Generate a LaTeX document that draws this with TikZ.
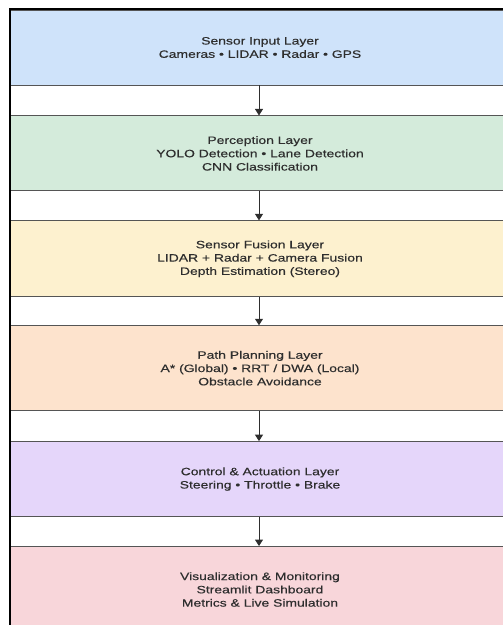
\documentclass[tikz,border=0pt]{standalone}
\usepackage{fontspec}
\setmainfont{Liberation Sans}[FakeStretch=1.3, FakeBold=0.4]
\usepackage{xcolor}
\usetikzlibrary{positioning, arrows.meta}

\definecolor{inputblue}{HTML}{CFE3FA}
\definecolor{percgreen}{HTML}{D4EBDB}
\definecolor{fusionyellow}{HTML}{FDF1CF}
\definecolor{planorange}{HTML}{FDE3CD}
\definecolor{ctrlpurple}{HTML}{E5D6FA}
\definecolor{vispink}{HTML}{F8D6DA}
\definecolor{edgegray}{HTML}{555555}
\definecolor{textgray}{HTML}{2E2E2E}

\tikzset{
  layer/.style={draw=edgegray, line width=0.9pt, rectangle, minimum width=500pt,
    align=center, text=textgray, font=\fontsize{10.7}{13.3}\selectfont},
  flow/.style={-{Triangle[width=8pt, length=6.5pt]}, line width=0.9pt, draw=textgray}
}

\begin{document}
\begin{tikzpicture}[x=1pt, y=-1pt]
  \clip (0,0) rectangle (503,625);
  \useasboundingbox (0,0) rectangle (503,625);
  % layers
  \node[layer, fill=inputblue, minimum height=75pt] (input) at (260,47.5)
    {Sensor Input Layer\\Cameras • LIDAR • Radar • GPS};
  \node[layer, fill=percgreen, minimum height=75pt, below=30pt of input] (percept)
    {Perception Layer\\YOLO Detection • Lane Detection\\CNN Classification};
  \node[layer, fill=fusionyellow, minimum height=76pt, below=29pt of percept] (fusion)
    {Sensor Fusion Layer\\LIDAR + Radar + Camera Fusion\\Depth Estimation (Stereo)};
  \node[layer, fill=planorange, minimum height=85pt, below=28pt of fusion] (plan)
    {Path Planning Layer\\A* (Global) • RRT / DWA (Local)\\Obstacle Avoidance};
  \node[layer, fill=ctrlpurple, minimum height=75pt, below=30pt of plan] (control)
    {Control \& Actuation Layer\\Steering • Throttle • Brake};
  \node[layer, fill=vispink, minimum height=86pt, below=29pt of control] (visual)
    {Visualization \& Monitoring\\Streamlit Dashboard\\Metrics \& Live Simulation};
  % connectors
  \foreach \from/\to in {input/percept, percept/fusion, fusion/plan, plan/control, control/visual} {
    \draw[flow] (\from.south -| 259,0) -- (\to.north -| 259,0);
  }
  % outer frame
  \draw[line width=2pt] (10,625) -- (10,9) -- (503,9);
\end{tikzpicture}
\end{document}
